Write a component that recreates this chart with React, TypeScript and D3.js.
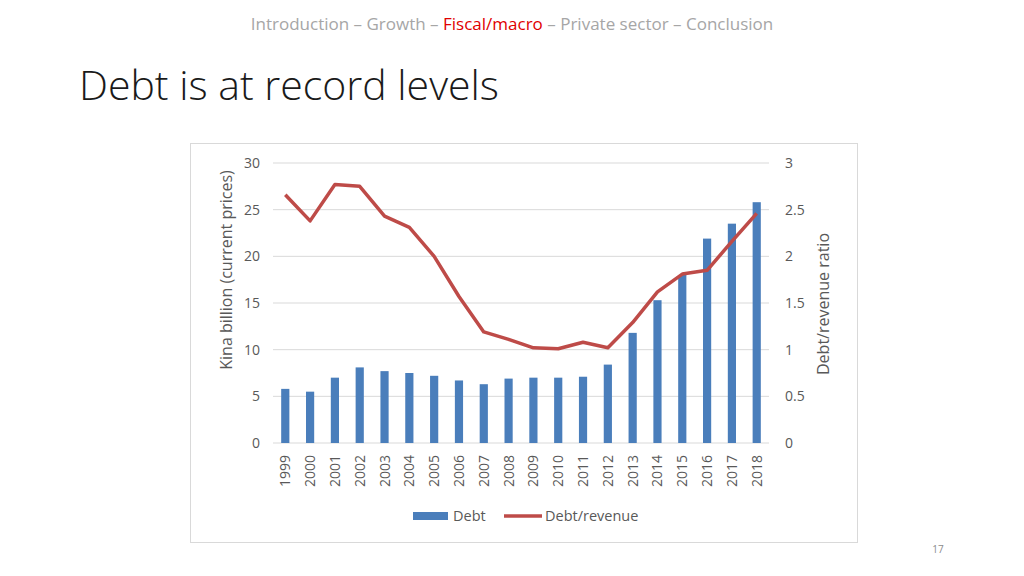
import { scaleBand, scaleLinear, line } from 'd3';

const years = ['1999', '2000', '2001', '2002', '2003', '2004', '2005', '2006', '2007', '2008', '2009', '2010', '2011', '2012', '2013', '2014', '2015', '2016', '2017', '2018'];
const debt = [5.8, 5.5, 7.0, 8.1, 7.7, 7.5, 7.2, 6.7, 6.3, 6.9, 7.0, 7.0, 7.1, 8.4, 11.8, 15.3, 18.0, 21.9, 23.5, 25.8];
const ratio = [2.66, 2.38, 2.77, 2.75, 2.43, 2.31, 2.0, 1.57, 1.19, 1.11, 1.02, 1.01, 1.08, 1.02, 1.29, 1.62, 1.81, 1.85, 2.16, 2.46];
const leftTicks = [0, 5, 10, 15, 20, 25, 30];
const rightTicks = [0, 0.5, 1, 1.5, 2, 2.5, 3];
const rightTickLabels = ['0', '0.5', '1', '1.5', '2', '2.5', '3'];
const navItems = ['Introduction', 'Growth', 'Fiscal/macro', 'Private sector', 'Conclusion'];

const font = '"Open Sans", sans-serif';

export default function App() {
  const plot = { left: 273, right: 769, top: 163, bottom: 443 };
  const x = scaleBand().domain(years).range([plot.left, plot.right]).paddingInner(0.67).paddingOuter(0.33);
  const yL = scaleLinear().domain([0, 30]).range([plot.bottom, plot.top]);
  const yR = scaleLinear().domain([0, 3]).range([plot.bottom, plot.top]);
  const cx = (y: string) => x(y)! + x.bandwidth() / 2;
  const path = line<number>()
    .x((_, i) => cx(years[i]))
    .y((d) => yR(d))(ratio)!;

  return (
    <svg width={1024} height={576} style={{ position: 'absolute', left: 0, top: 0, background: '#fff' }}>
      <text x={512} y={30} textAnchor="middle" fontFamily={font} fontSize={17} fill="#a6a6a6">
        {navItems.map((n, i) => (
          <tspan key={n} fill={n === 'Fiscal/macro' ? '#e00000' : '#a6a6a6'}>
            {n}
            {i < navItems.length - 1 ? <tspan fill="#a6a6a6">{' – '}</tspan> : null}
          </tspan>
        ))}
      </text>
      <text x={79} y={100} fontFamily={font} fontWeight={300} fontSize={41} fill="#1a1a1a">
        Debt is at record levels
      </text>
      <text x={938} y={553} textAnchor="middle" fontFamily={font} fontSize={10} fill="#8c8c8c">17</text>

      <rect x={190.5} y={143.5} width={667} height={399} fill="#fff" stroke="#d9d9d9" />

      {leftTicks.map((t) => (
        <line key={t} x1={plot.left} x2={plot.right} y1={yL(t)} y2={yL(t)} stroke="#d9d9d9" strokeWidth={1} />
      ))}
      {leftTicks.map((t) => (
        <text key={t} x={260} y={yL(t) + 5} textAnchor="end" fontFamily={font} fontSize={14} fill="#595959">{t}</text>
      ))}
      {rightTicks.map((t, i) => (
        <text key={t} x={785} y={yR(t) + 5} fontFamily={font} fontSize={14} fill="#595959">{rightTickLabels[i]}</text>
      ))}

      {debt.map((d, i) => (
        <rect key={years[i]} x={x(years[i])} y={yL(d)} width={x.bandwidth()} height={yL(0) - yL(d)} fill="#4a7ebb" />
      ))}
      <path d={path} fill="none" stroke="#be4b48" strokeWidth={3.5} strokeLinejoin="round" />

      {years.map((y) => (
        <text key={y} transform={`translate(${cx(y) + 5},455) rotate(-90)`} textAnchor="end" fontFamily={font} fontSize={14} fill="#595959">{y}</text>
      ))}

      <text transform="translate(232,270) rotate(-90)" textAnchor="middle" fontFamily={font} fontSize={16} fill="#595959">
        Kina billion (current prices)
      </text>
      <text transform="translate(829,304) rotate(-90)" textAnchor="middle" fontFamily={font} fontSize={16} fill="#595959">
        Debt/revenue ratio
      </text>

      <rect x={413} y={512} width={35} height={8} fill="#4a7ebb" />
      <text x={453} y={521} fontFamily={font} fontSize={14.5} fill="#595959">Debt</text>
      <line x1={504} x2={542} y1={516} y2={516} stroke="#be4b48" strokeWidth={3.5} />
      <text x={545} y={521} fontFamily={font} fontSize={14.5} fill="#595959">Debt/revenue</text>
    </svg>
  );
}
